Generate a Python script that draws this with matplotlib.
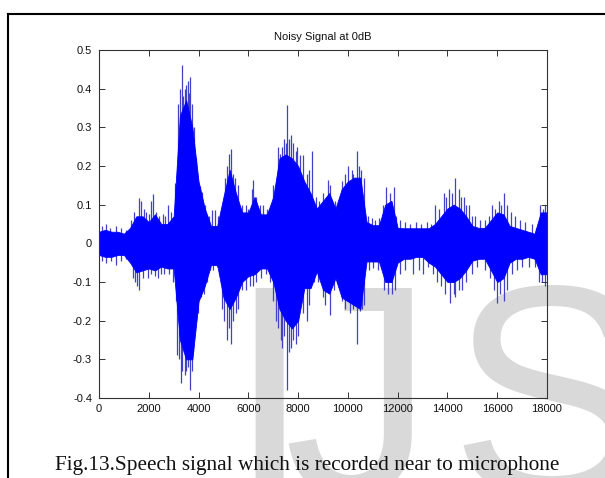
import numpy as np
import matplotlib.pyplot as plt
from matplotlib.lines import Line2D

plt.rcParams['axes.unicode_minus'] = False  # plain hyphen for negative ticks
plt.rcParams['font.family'] = ['Liberation Sans', 'DejaVu Sans']

# dense body of the waveform, every 250 samples
sample_pos = np.arange(0, 18001, 250)
core_upper = [0.03, 0.035, 0.03, 0.03, 0.025, 0.04, 0.07, 0.07, 0.055, 0.075,
              0.05, 0.05, 0.07, 0.33, 0.37, 0.3, 0.16, 0.09, 0.045, 0.045,
              0.12, 0.19, 0.13, 0.08, 0.08, 0.12, 0.075, 0.075, 0.12, 0.22,
              0.23, 0.22, 0.2, 0.16, 0.13, 0.09, 0.11, 0.13, 0.09, 0.14,
              0.16, 0.17, 0.17, 0.055, 0.047, 0.047, 0.1, 0.11, 0.04, 0.039,
              0.039, 0.039, 0.039, 0.039, 0.05, 0.07, 0.09, 0.1, 0.09, 0.07,
              0.045, 0.04, 0.04, 0.06, 0.08, 0.075, 0.045, 0.04, 0.035, 0.03,
              0.025, 0.08, 0.08]
core_lower = [-0.03, -0.035, -0.035, -0.03, -0.03, -0.05, -0.075, -0.07, -0.065, -0.07,
              -0.06, -0.065, -0.065, -0.25, -0.3, -0.3, -0.15, -0.11, -0.056, -0.056,
              -0.14, -0.17, -0.14, -0.1, -0.085, -0.08, -0.065, -0.065, -0.1, -0.17,
              -0.2, -0.22, -0.2, -0.116, -0.116, -0.073, -0.12, -0.13, -0.09, -0.14,
              -0.15, -0.16, -0.17, -0.047, -0.047, -0.047, -0.1, -0.1, -0.05, -0.04,
              -0.04, -0.035, -0.035, -0.05, -0.06, -0.08, -0.1, -0.1, -0.09, -0.07,
              -0.045, -0.04, -0.04, -0.07, -0.1, -0.09, -0.05, -0.04, -0.04, -0.035,
              -0.04, -0.08, -0.08]

# single peaks sticking out of the body (sample index, amplitude)
spike_up_x = [120, 280, 450, 683, 900, 1100, 1300, 1420, 1594, 1690,
              1800, 1890, 2000, 2090, 2180, 2300, 2420, 2560, 2660, 2760,
              2890, 3050, 3120, 3190, 3250, 3320, 3390, 3450, 3500, 3560,
              3600, 3660, 3720, 3800, 3880, 3950, 4060, 4130, 4250, 4420,
              4530, 4660, 4780, 4970, 5080, 5150, 5230, 5300, 5380, 5450,
              5600, 5750, 5900, 6000, 6130, 6200, 6300, 6470, 6600, 6750,
              6870, 6990, 7100, 7200, 7280, 7340, 7420, 7500, 7566, 7650,
              7700, 7780, 7900, 7960, 8080, 8210, 8350, 8450, 8570, 8700,
              8850, 9000, 9210, 9300, 9500, 9620, 9750, 9880, 10020, 10150,
              10220, 10350, 10450, 10540, 10650, 10800, 10950, 11100, 11250, 11400,
              11550, 11700, 11850, 11950, 12100, 12300, 12500, 12750, 12950, 13160,
              13350, 13510, 13650, 13850, 13950, 14050, 14180, 14320, 14450, 14550,
              14650, 14750, 14850, 14980, 15120, 15300, 15520, 15650, 15790, 15900,
              16060, 16150, 16260, 16390, 16550, 16730, 16900, 17130, 17400, 17550,
              17730, 17850, 17930]
spike_up_y = [0.045, 0.05, 0.04, 0.045, 0.04, 0.035, 0.06, 0.08, 0.116, 0.11,
              0.09, 0.08, 0.075, 0.11, 0.128, 0.08, 0.07, 0.075, 0.07, 0.1,
              0.08, 0.155, 0.14, 0.36, 0.4, 0.46, 0.38, 0.4, 0.41, 0.42,
              0.39, 0.43, 0.36, 0.3, 0.22, 0.18, 0.147, 0.134, 0.1, 0.07,
              0.086, 0.086, 0.07, 0.1, 0.17, 0.2, 0.23, 0.245, 0.18, 0.17,
              0.15, 0.1, 0.1, 0.09, 0.14, 0.164, 0.12, 0.1, 0.1, 0.09,
              0.09, 0.15, 0.14, 0.25, 0.23, 0.25, 0.27, 0.26, 0.357, 0.27,
              0.28, 0.26, 0.24, 0.25, 0.228, 0.228, 0.18, 0.19, 0.24, 0.12,
              0.11, 0.13, 0.164, 0.15, 0.11, 0.1, 0.16, 0.18, 0.2, 0.19,
              0.18, 0.24, 0.2, 0.19, 0.17, 0.07, 0.065, 0.06, 0.065, 0.1,
              0.146, 0.13, 0.146, 0.07, 0.06, 0.055, 0.05, 0.055, 0.05, 0.055,
              0.05, 0.1, 0.09, 0.13, 0.12, 0.14, 0.13, 0.17, 0.14, 0.12,
              0.12, 0.1, 0.1, 0.07, 0.07, 0.06, 0.06, 0.07, 0.1, 0.09,
              0.11, 0.1, 0.13, 0.1, 0.08, 0.07, 0.06, 0.055, 0.05, 0.04,
              0.1, 0.09, 0.1]
spike_down_x = [120, 280, 500, 683, 900, 1100, 1350, 1450, 1510, 1620,
                1750, 1960, 2100, 2250, 2360, 2500, 2630, 2800, 2960, 3090,
                3150, 3200, 3295, 3350, 3450, 3500, 3580, 3660, 3720, 3790,
                3900, 3980, 4100, 4200, 4330, 4450, 4600, 4750, 4950, 5030,
                5130, 5210, 5300, 5400, 5500, 5600, 5750, 5900, 6050, 6190,
                6300, 6500, 6700, 6860, 7000, 7100, 7200, 7300, 7340, 7450,
                7566, 7620, 7700, 7800, 7900, 8000, 8180, 8340, 8450, 8650,
                8800, 9000, 9100, 9280, 9450, 9650, 9760, 9900, 10080, 10200,
                10350, 10480, 10550, 10650, 10850, 11000, 11200, 11450, 11600, 11760,
                11900, 12100, 12300, 12630, 12850, 13000, 13200, 13400, 13580, 13750,
                13920, 14120, 14250, 14320, 14450, 14590, 14750, 14990, 15200, 15520,
                15700, 15860, 15990, 16100, 16260, 16400, 16590, 16800, 17000, 17260,
                17500, 17660, 17800, 17930]
spike_down_y = [-0.045, -0.05, -0.045, -0.055, -0.045, -0.04, -0.09, -0.1, -0.11, -0.12,
                -0.09, -0.09, -0.08, -0.085, -0.09, -0.08, -0.08, -0.08, -0.1, -0.15,
                -0.29, -0.3, -0.36, -0.33, -0.34, -0.33, -0.32, -0.38, -0.33, -0.28,
                -0.2, -0.18, -0.14, -0.13, -0.1, -0.07, -0.07, -0.06, -0.17, -0.2,
                -0.25, -0.22, -0.26, -0.2, -0.18, -0.17, -0.12, -0.12, -0.11, -0.11,
                -0.1, -0.09, -0.08, -0.1, -0.15, -0.2, -0.22, -0.25, -0.27, -0.24,
                -0.38, -0.28, -0.27, -0.25, -0.26, -0.24, -0.18, -0.2, -0.16, -0.1,
                -0.1, -0.14, -0.16, -0.185, -0.12, -0.11, -0.15, -0.17, -0.18, -0.17,
                -0.26, -0.175, -0.17, -0.16, -0.07, -0.065, -0.07, -0.12, -0.13, -0.13,
                -0.12, -0.08, -0.07, -0.08, -0.07, -0.08, -0.06, -0.08, -0.1, -0.11,
                -0.13, -0.155, -0.13, -0.14, -0.12, -0.12, -0.1, -0.08, -0.06, -0.07,
                -0.09, -0.12, -0.155, -0.13, -0.15, -0.12, -0.08, -0.07, -0.06, -0.06,
                -0.06, -0.1, -0.1, -0.11]

x_ticks = [0, 2000, 4000, 6000, 8000, 10000, 12000, 14000, 16000, 18000]
y_ticks = [-0.4, -0.3, -0.2, -0.1, 0, 0.1, 0.2, 0.3, 0.4, 0.5]
y_tick_labels = ['-0.4', '-0.3', '-0.2', '-0.1', '0', '0.1', '0.2', '0.3', '0.4', '0.5']

fig = plt.figure(figsize=(6.05, 4.78), dpi=100)
fig.patch.set_facecolor('white')

# watermark letters behind everything
wm = dict(fontsize=216, color='#d9d9d9', family='Liberation Sans', va='baseline', zorder=-5)
fig.text(227 / 605, -17 / 478, 'I', **wm)
fig.text(283 / 605, -17 / 478, 'J', **wm)
fig.text(449 / 605, -17 / 478, 'S', **wm)

# page frame lines
fig.add_artist(Line2D([7.7 / 605, 1.0], [1 - 14.3 / 478, 1 - 14.3 / 478],
                      transform=fig.transFigure, color='black', linewidth=1.5))
fig.add_artist(Line2D([7.7 / 605, 7.7 / 605], [0, 1 - 14.3 / 478],
                      transform=fig.transFigure, color='black', linewidth=1.5))

ax = fig.add_axes([99 / 605, 80 / 478, 448 / 605, 348 / 478])
ax.set_facecolor('none')

ax.vlines(spike_up_x, 0, spike_up_y, color='#4040c8', linewidth=0.9, zorder=1)
ax.vlines(spike_down_x, spike_down_y, 0, color='#4040c8', linewidth=0.9, zorder=1)
ax.fill_between(sample_pos, core_lower, core_upper, color='#0000ff',
                edgecolor='#0000ff', linewidth=0.6, zorder=2)

ax.set_xlim(0, 18000)
ax.set_ylim(-0.4, 0.5)
ax.set_xticks(x_ticks)
ax.set_xticklabels([str(t) for t in x_ticks])
ax.set_yticks(y_ticks)
ax.set_yticklabels(y_tick_labels)
ax.tick_params(direction='in', top=True, right=True, length=4, width=0.7,
               color='#333333', labelsize=8, labelcolor='#111111')
ax.tick_params(axis='y', pad=5)
ax.tick_params(axis='x', pad=4)
for sp in ax.spines.values():
    sp.set_color('#333333')
    sp.set_linewidth(0.8)

ax.set_title('Noisy Signal at 0dB', fontsize=8, pad=7.5, color='#111111')

fig.text(55 / 605, 8 / 478, 'Fig.13.Speech signal which is recorded near to microphone',
         family='Liberation Serif', fontsize=15.3, va='baseline', ha='left', color='#111111')

fig.savefig('out.png', dpi=100)
